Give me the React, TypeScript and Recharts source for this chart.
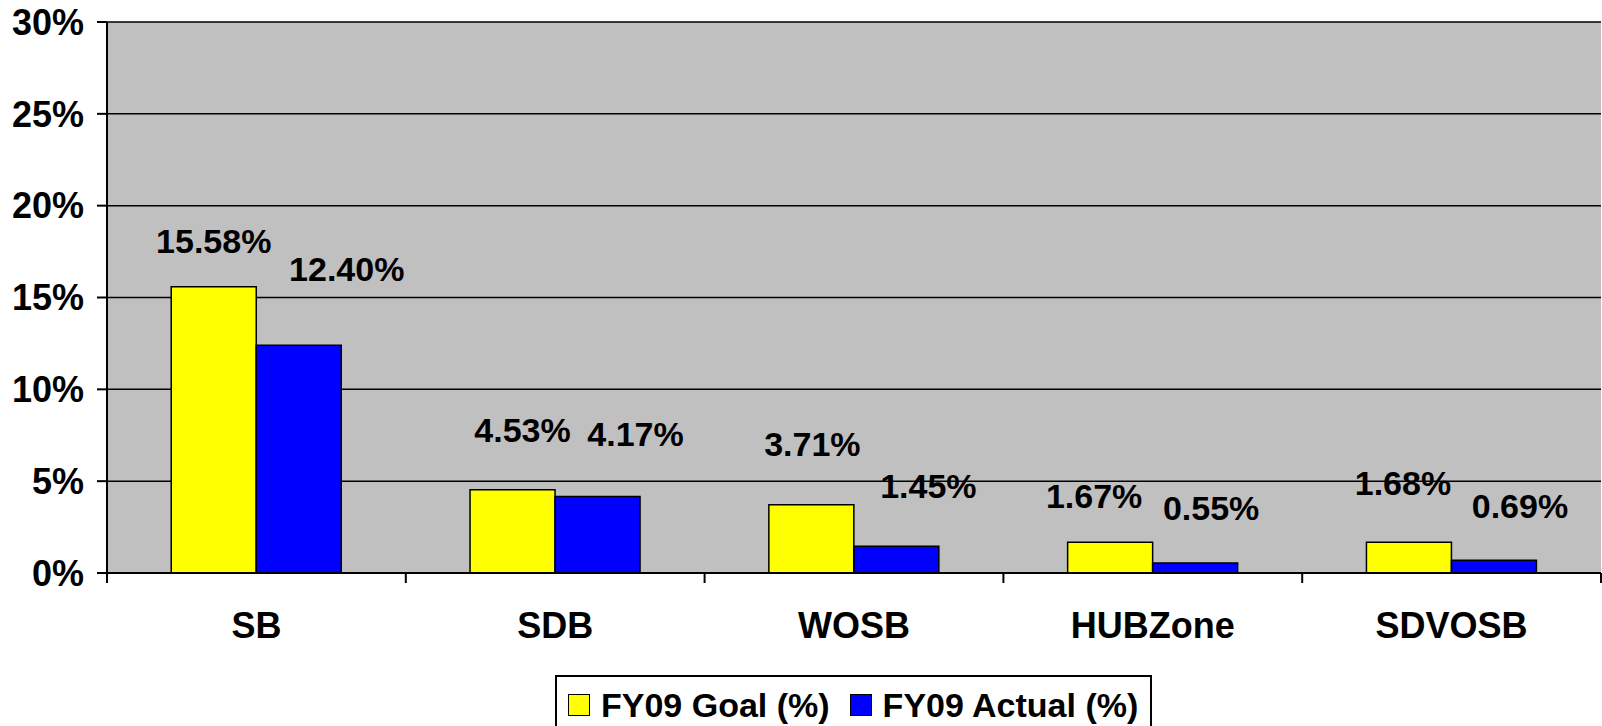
import { BarChart, Bar, XAxis, YAxis, CartesianGrid, Legend, LabelList } from "recharts";

const categories = ["SB", "SDB", "WOSB", "HUBZone", "SDVOSB"];
const goalValues = [15.58, 4.53, 3.71, 1.67, 1.68];
const actualValues = [12.4, 4.17, 1.45, 0.55, 0.69];
const yTicks = [0, 5, 10, 15, 20, 25, 30];

// label nudges (dx, dy from bar top centre), labels were hand-placed in the original
const goalNudge = [[0, -34], [10, -48], [1, -49], [-16, -34], [-6, -47]];
const actualNudge = [[48, -64], [38, -50], [32, -48], [16, -43], [26, -42]];

const data = categories.map((name, i) => ({
  name,
  goal: goalValues[i],
  actual: actualValues[i],
}));

const FONT = '"Liberation Sans", Arial, sans-serif';
const W = 1602;
const H = 726;
const MARGIN = { top: 22, right: 1, left: 0, bottom: 0 };
const Y_AXIS_W = 107;
const BAND = (W - MARGIN.right - MARGIN.left - Y_AXIS_W) / categories.length;

function CategoryTick(props: any) {
  const { x, y, payload, index } = props;
  const axisY = y - 10;
  const left = x - BAND / 2;
  return (
    <g>
      <line x1={left} x2={left} y1={axisY} y2={axisY + 10} stroke="#000" strokeWidth={2} />
      {index === categories.length - 1 && (
        <line x1={x + BAND / 2} x2={x + BAND / 2} y1={axisY} y2={axisY + 10} stroke="#000" strokeWidth={2} />
      )}
      <text x={x} y={axisY + 65} textAnchor="middle" fontFamily={FONT} fontWeight="bold" fontSize={36} fill="#000">
        {payload.value}
      </text>
    </g>
  );
}

const makeLabel = (nudge: number[][]) => (props: any) => {
  const { x, y, width, value, index } = props;
  const [dx, dy] = nudge[index] || [0, -40];
  return (
    <text
      x={Number(x) + Number(width) / 2 + dx}
      y={Number(y) + dy}
      textAnchor="middle"
      fontFamily={FONT}
      fontWeight="bold"
      fontSize={34}
      fill="#000"
    >
      {Number(value).toFixed(2)}%
    </text>
  );
};

function LegendBox() {
  const item = (color: string, label: string) => (
    <span style={{ display: "inline-flex", alignItems: "center" }}>
      <span
        style={{
          display: "inline-block",
          width: 20,
          height: 20,
          background: color,
          border: "1.5px solid #000",
          marginRight: 11,
        }}
      />
      <span>{label}</span>
    </span>
  );
  return (
    <div style={{ height: 53, position: "relative" }}>
      <div
        style={{
          position: "absolute",
          left: 555,
          top: 2,
          width: 597,
          height: 51,
          boxSizing: "border-box",
          border: "2px solid #000",
          borderBottom: "none",
          background: "#fff",
          display: "flex",
          alignItems: "center",
          gap: 20,
          paddingLeft: 11,
          paddingTop: 6,
          fontFamily: FONT,
          fontWeight: "bold",
          fontSize: 34,
          color: "#000",
          whiteSpace: "nowrap",
          lineHeight: 1,
        }}
      >
        {item("#FFFF00", "FY09 Goal (%)")}
        {item("#0000FF", "FY09 Actual (%)")}
      </div>
    </div>
  );
}

export default function App() {
  return (
    <div style={{ position: "absolute", left: 0, top: 0, width: W, height: H, background: "#fff", overflow: "hidden" }}>
      <BarChart width={W} height={H} data={data} margin={MARGIN} barCategoryGap="21.5%" barGap={0}>
        <CartesianGrid vertical={false} stroke="#000" strokeWidth={1.5} fill="#C0C0C0" fillOpacity={1} />
        <XAxis
          dataKey="name"
          height={100}
          tickSize={10}
          tickMargin={0}
          tickLine={false}
          axisLine={{ stroke: "#000", strokeWidth: 2 }}
          tick={<CategoryTick />}
          interval={0}
        />
        <YAxis
          width={Y_AXIS_W}
          domain={[0, 30]}
          ticks={yTicks}
          tickFormatter={(v: number) => `${v}%`}
          tickSize={10}
          tickMargin={13}
          tickLine={{ stroke: "#000", strokeWidth: 2 }}
          axisLine={{ stroke: "#000", strokeWidth: 2 }}
          tick={{ fill: "#000", fontFamily: FONT, fontWeight: "bold", fontSize: 36 }}
          interval={0}
        />
        <Legend verticalAlign="bottom" content={<LegendBox />} />
        <Bar dataKey="goal" name="FY09 Goal (%)" fill="#FFFF00" stroke="#000" strokeWidth={1.5} isAnimationActive={false}>
          <LabelList dataKey="goal" content={makeLabel(goalNudge)} />
        </Bar>
        <Bar dataKey="actual" name="FY09 Actual (%)" fill="#0000FF" stroke="#000" strokeWidth={1.5} isAnimationActive={false}>
          <LabelList dataKey="actual" content={makeLabel(actualNudge)} />
        </Bar>
      </BarChart>
    </div>
  );
}
